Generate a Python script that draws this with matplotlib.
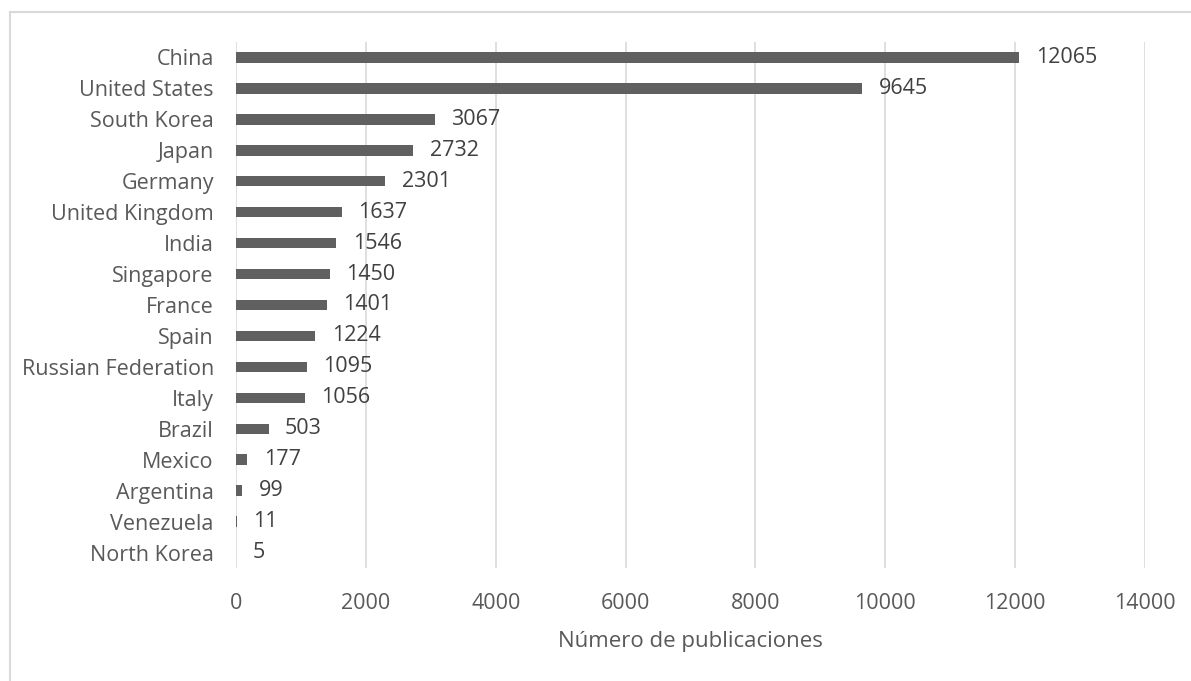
import matplotlib
matplotlib.use("Agg")
import matplotlib.pyplot as plt
from matplotlib.lines import Line2D

countries = ["China", "United States", "South Korea", "Japan", "Germany",
             "United Kingdom", "India", "Singapore", "France", "Spain",
             "Russian Federation", "Italy", "Brazil", "Mexico", "Argentina",
             "Venezuela", "North Korea"]
publications = [12065, 9645, 3067, 2732, 2301, 1637, 1546, 1450, 1401, 1224,
                1095, 1056, 503, 177, 99, 11, 5]
x_ticks = [0, 2000, 4000, 6000, 8000, 10000, 12000, 14000]

plt.rcParams["font.family"] = ["Open Sans", "DejaVu Sans"]
text_color = "#595959"
bar_color = "#606060"

W, H = 1191, 681
fig = plt.figure(figsize=(W / 100, H / 100), dpi=100)
ax = fig.add_axes([236 / W, 1 - 568 / H, (1145 - 236) / W, (568 - 42) / H])

y = list(range(len(countries)))
ax.barh(y, publications, height=0.34, color=bar_color, zorder=3)
for yi, v in zip(y, publications):
    ax.text(v + 250, yi, str(v), va="center", ha="left",
            fontsize=15.5, color="#404040")

ax.set_ylim(len(countries) - 0.5, -0.5)
ax.set_xlim(0, 14000)
ax.set_yticks(y)
ax.set_yticklabels(countries)
ax.set_xticks(x_ticks)
ax.set_xticklabels([str(t) for t in x_ticks])
ax.tick_params(axis="both", length=0, labelsize=15.5, labelcolor=text_color)
ax.tick_params(axis="x", pad=18)
ax.tick_params(axis="y", pad=16)
ax.grid(axis="x", color="#d9d9d9", linewidth=1.2, zorder=0)
for s in ax.spines.values():
    s.set_visible(False)

ax.set_xlabel("Número de publicaciones", fontsize=16, color=text_color,
              labelpad=12)

# chart area border (top and left edges)
fig.add_artist(Line2D([10 / W, 10 / W], [1 - 12 / H, 0], color="#d9d9d9",
                      linewidth=1.5, transform=fig.transFigure))
fig.add_artist(Line2D([10 / W, 1], [1 - 12 / H, 1 - 12 / H], color="#d9d9d9",
                      linewidth=1.5, transform=fig.transFigure))

fig.savefig("out.png", dpi=100, facecolor="white")
